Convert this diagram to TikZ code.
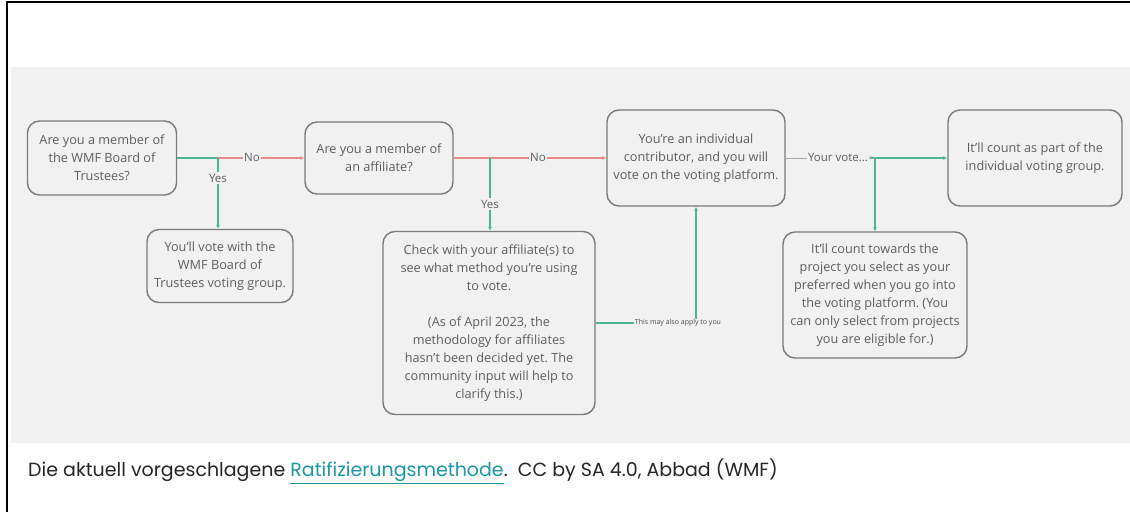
\documentclass[tikz,border=0pt]{standalone}
\usepackage{fontspec}
\setmainfont{Open Sans}
\newfontfamily\capfont{Poppins}
\usetikzlibrary{arrows.meta,positioning}
\frenchspacing
\definecolor{panel}{HTML}{F1F1F1}
\definecolor{boxline}{HTML}{7A7A7A}
\definecolor{boxtext}{HTML}{5E5E5E}
\definecolor{grn}{HTML}{4DB597}
\definecolor{rd}{HTML}{E88A8A}
\definecolor{lnk}{HTML}{1B98A6}
\tikzset{
  box/.style={draw=boxline, line width=1.4pt, rounded corners=12pt, fill=panel,
    text=boxtext, align=center, font=\fontsize{12.7}{18}\selectfont, inner sep=2pt},
  gline/.style={draw=grn, line width=1.2pt},
  rline/.style={draw=rd, line width=1.2pt},
  kline/.style={draw=gray!70, line width=0.8pt},
  tip/.style={-{Latex[length=4pt,width=4pt]}},
  lbl/.style={fill=panel, text=boxtext, font=\fontsize{11.5}{13}\selectfont, inner sep=1.5pt},
  tinylbl/.style={fill=panel, text=boxtext!80!black, font=\fontsize{7}{8}\selectfont, inner sep=1pt}
}
\begin{document}
\begin{tikzpicture}[x=1pt,y=-1pt]
\useasboundingbox (0,0) rectangle (1130,512);
\fill[white] (0,0) rectangle (1130,512);
% frame
\draw[black, line width=2pt] (1130,2) -- (7,2) -- (7,512);
% panel
\fill[panel] (11,67) rectangle (1130,443);
% boxes
\node[box, minimum width=149pt, minimum height=74pt] (b1) at (102,158)
  {Are you a member of\\the WMF Board of\\Trustees?};
\node[box, minimum width=146pt, minimum height=73pt] (b2) at (220,266)
  {You'll vote with the\\WMF Board of\\Trustees voting group.};
\node[box, minimum width=148pt, minimum height=72pt] (b3) at (379,158)
  {Are you a member of\\an affiliate?};
\node[box, minimum width=212pt, minimum height=183pt] (b4) at (489,323)
  {Check with your affiliate(s) to\\see what method you're using\\to vote.\\[18pt]
   (As of April 2023, the\\methodology for affiliates\\hasn't been decided yet. The\\community input will help to\\clarify this.)};
\node[box, minimum width=178pt, minimum height=96pt] (b5) at (696,158)
  {You're an individual\\contributor, and you will\\vote on the voting platform.};
\node[box, minimum width=174pt, minimum height=96pt] (b6) at (1035,158)
  {It'll count as part of the\\individual voting group.};
\node[box, minimum width=184pt, minimum height=126pt] (b7) at (875,295)
  {It'll count towards the\\project you select as your\\preferred when you go into\\the voting platform. (You\\can only select from projects\\you are eligible for.)};
% junctions
\coordinate (j1) at (218,158);
\coordinate (j2) at (490,158);
\coordinate (j3) at (875,158);
\coordinate (j4) at (696,323);
% connectors
\draw[gline] (b1.east) -- (j1);
\draw[rline, tip] (j1) -- (b3.west);
\draw[gline, tip] (j1) -- (j1 |- b2.north);
\node[lbl] (no1) at (252,157) {No};
\node[lbl] (yes1) at (218,178) {Yes};
\draw[rline, tip] (b3.east) -- (b5.west);
\draw[gline, tip] (j2) -- (j2 |- b4.north);
\node[lbl] (no2) at (538,157) {No};
\node[lbl] (yes2) at (490,204) {Yes};
\draw[gline, tip] (b4.east |- j4) -- (j4) -- (b5.south);
\node[tinylbl] (apply) at (678,323) {This may also apply to you};
\draw[kline] (b5.east) -- (j3);
\node[lbl] (vote) at (838,157) {Your vote...};
\draw[gline] (vote.east) -- (j3);
\draw[gline, tip] (j3) -- (b6.west);
\draw[gline, tip] (j3) -- (b7.north);
% caption
\node[anchor=west, inner sep=0pt, font=\capfont\fontsize{19}{22}\selectfont, text=black!85] (cap) at (28,471)
  {Die aktuell vorgeschlagene \textcolor{lnk}{\underline{Ratifizierungsmethode}}.\ \ CC by SA 4.0, Abbad (WMF)};
\end{tikzpicture}
\end{document}
